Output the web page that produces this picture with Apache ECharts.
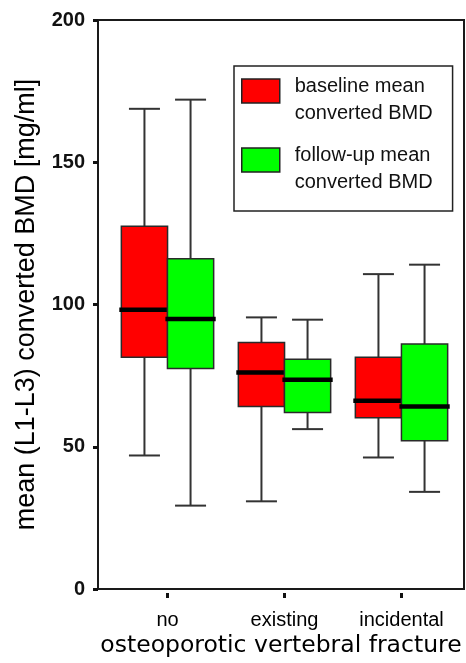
<!DOCTYPE html>
<html>
<head>
<meta charset="utf-8">
<script src="https://cdn.jsdelivr.net/npm/echarts@6/dist/echarts.min.js"></script>
<style>
  html, body { margin: 0; padding: 0; background: #fff; }
  #chart { width: 466px; height: 663px; }
</style>
</head>
<body>
<div id="chart"></div>
<script>
// groups on the x axis
var categories = ['no', 'existing', 'incidental'];
// [min, Q1, median, Q3, max] per group
var baselineBoxes = [
    [48, 82.3, 98.9, 128, 169],
    [32, 65.1, 77, 87.4, 96.2],
    [47.3, 61.2, 67.1, 82.3, 111.3]
];
var followupBoxes = [
    [30.5, 78.4, 95.6, 116.7, 172.2],
    [57.2, 63, 74.4, 81.6, 95.4],
    [35.3, 53.1, 65.1, 86.9, 114.6]
];
var yTicks = [0, 50, 100, 150, 200];

var seriesNames = ['baseline mean\nconverted BMD', 'follow-up mean\nconverted BMD'];
var fontMain = '"Liberation Sans", Arial, sans-serif';

// add the category index in front of each box
function toData(boxes) {
    return boxes.map(function (b, i) { return [i].concat(b) })
}

// draw one box + whiskers + median, shifted inside the band
function boxRenderer(offset) {
    return function (params, api) {
        var xi = api.value(0)
        var band = api.size([1, 0])[0]
        var cx = api.coord([xi, 0])[0] + offset * band
        var boxW = band * 0.395
        var capW = band * 0.265
        var medW = band * 0.43
        var yMin = api.coord([xi, api.value(1)])[1]
        var yQ1 = api.coord([xi, api.value(2)])[1]
        var yMed = api.coord([xi, api.value(3)])[1]
        var yQ3 = api.coord([xi, api.value(4)])[1]
        var yMax = api.coord([xi, api.value(5)])[1]
        var st = api.style()
        var wl = { stroke: '#333', lineWidth: 2 }
        return {
            type: 'group',
            children: [
                { type: 'line', shape: { x1: cx, y1: yMax, x2: cx, y2: yQ3 }, style: wl },
                { type: 'line', shape: { x1: cx, y1: yQ1, x2: cx, y2: yMin }, style: wl },
                { type: 'line', shape: { x1: cx - capW / 2, y1: yMax, x2: cx + capW / 2, y2: yMax }, style: wl },
                { type: 'line', shape: { x1: cx - capW / 2, y1: yMin, x2: cx + capW / 2, y2: yMin }, style: wl },
                {
                    type: 'rect',
                    shape: { x: cx - boxW / 2, y: yQ3, width: boxW, height: yQ1 - yQ3 },
                    style: { fill: st.fill, stroke: '#2a2a2a', lineWidth: 1.5 }
                },
                {
                    type: 'line',
                    shape: { x1: cx - medW / 2, y1: yMed, x2: cx + medW / 2, y2: yMed },
                    style: { stroke: '#000', lineWidth: 4.5 }
                }
            ]
        }
    }
}

var chart = echarts.init(document.getElementById('chart'))
var option = {
    animation: false,
    backgroundColor: '#fff',
    grid: [
        // frame
        { left: 98, top: 20, right: 2, bottom: 70, show: true, borderColor: '#1a1a1a', borderWidth: 2 },
        // data area, bands matched to the tick positions
        { left: 109, top: 20, width: 351, bottom: 70 }
    ],
    legend: {
        orient: 'vertical',
        left: 234,
        top: 66,
        padding: [7, 20, 15, 7],
        itemGap: 15,
        itemWidth: 48,
        itemHeight: 42,
        selectedMode: false,
        borderColor: '#222',
        borderWidth: 1.5,
        textStyle: { fontSize: 20, lineHeight: 27, color: '#111', fontFamily: fontMain },
        data: [
            {
                name: seriesNames[0],
                icon: 'path://M0,0H38V24H0Z M48,42',
                itemStyle: { color: '#ff0000', borderColor: '#222', borderWidth: 1.5 }
            },
            {
                name: seriesNames[1],
                icon: 'path://M0,0H38V24H0Z M48,42',
                itemStyle: { color: '#00ff00', borderColor: '#222', borderWidth: 1.5 }
            }
        ]
    },
    xAxis: [
        {
            gridIndex: 0, type: 'value', min: 0, max: 1,
            axisLine: { show: false }, axisTick: { show: false },
            axisLabel: { show: false }, splitLine: { show: false },
            name: 'osteoporotic vertebral fracture',
            nameLocation: 'middle',
            nameGap: 45,
            nameTextStyle: { fontSize: 23.5, color: '#000', fontFamily: '"DejaVu Sans", Verdana, sans-serif' }
        },
        {
            gridIndex: 1, type: 'category', data: categories,
            axisLine: { show: false },
            axisTick: { show: true, alignWithLabel: true, length: 5, lineStyle: { width: 3, color: '#111' } },
            axisLabel: { fontSize: 20, margin: 17, color: '#000', fontFamily: fontMain },
            splitLine: { show: false }
        }
    ],
    yAxis: [
        {
            gridIndex: 0, type: 'value', min: yTicks[0], max: yTicks[yTicks.length - 1], interval: 50,
            axisLine: { show: true, lineStyle: { color: '#1a1a1a', width: 2 } },
            axisTick: { show: true, length: 5, lineStyle: { width: 3, color: '#111' } },
            axisLabel: { fontSize: 20, fontWeight: 'bold', margin: 13, color: '#111', fontFamily: fontMain },
            splitLine: { show: false },
            name: 'mean (L1-L3) converted BMD [mg/ml]',
            nameLocation: 'middle',
            nameGap: 58,
            nameTextStyle: { fontSize: 27, color: '#000', fontFamily: fontMain }
        },
        { gridIndex: 1, type: 'value', min: 0, max: 200, show: false }
    ],
    series: [
        {
            name: seriesNames[0],
            type: 'custom',
            xAxisIndex: 1, yAxisIndex: 1,
            itemStyle: { color: '#ff0000' },
            encode: { x: 0, y: [1, 2, 3, 4, 5] },
            renderItem: boxRenderer(-0.197),
            data: toData(baselineBoxes)
        },
        {
            name: seriesNames[1],
            type: 'custom',
            xAxisIndex: 1, yAxisIndex: 1,
            itemStyle: { color: '#00ff00' },
            encode: { x: 0, y: [1, 2, 3, 4, 5] },
            renderItem: boxRenderer(0.197),
            data: toData(followupBoxes)
        }
    ]
}
chart.setOption(option)
</script>
</body>
</html>
